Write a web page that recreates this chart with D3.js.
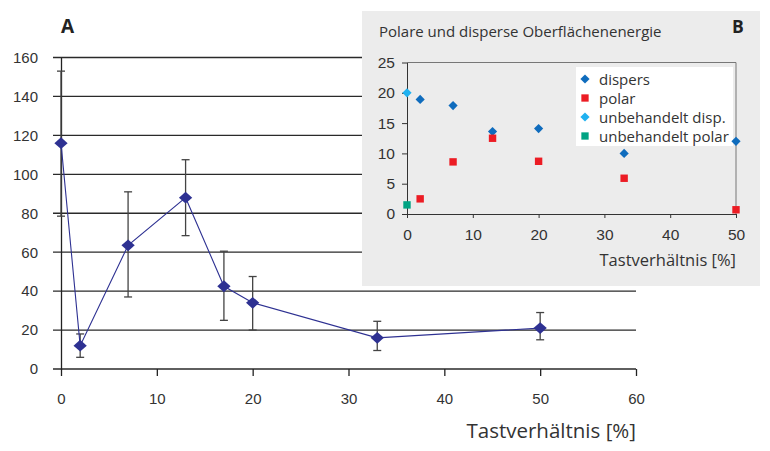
<!DOCTYPE html>
<html>
<head>
<meta charset="utf-8">
<script src="https://cdn.jsdelivr.net/npm/d3@7"></script>
<style>
  body { margin: 0; background: #fff; }
  svg { display: block; font-family: "Open Sans", "Noto Sans", sans-serif; }
</style>
</head>
<body>
<div class="main"></div>
<script>
// Chart A: surface energy vs duty cycle, with error bars
const dutyA = [0, 2, 7, 13, 17, 20, 33, 50];
const valueA = [116, 12, 63.5, 88, 42.5, 34, 16, 21];
const errHighA = [153, 18, 91, 107.5, 60.5, 47.5, 24.5, 29];
const errLowA = [78.5, 6, 37, 68.5, 25, 20, 9.5, 15];
const yTicksA = [0, 20, 40, 60, 80, 100, 120, 140, 160];
const xTicksA = [0, 10, 20, 30, 40, 50, 60];

// Chart B: polar / disperse
const dutyB = [2, 7, 13, 20, 33, 50];
const dispers = [18.9, 17.9, 13.6, 14.1, 10, 12];
const polar = [2.5, 8.6, 12.5, 8.7, 5.9, 0.7];
const untreatedDisp = [20];
const untreatedPolar = [1.5];
const yTicksB = [0, 5, 10, 15, 20, 25];
const xTicksB = [0, 10, 20, 30, 40, 50];
const legendLabels = ["dispers", "polar", "unbehandelt disp.", "unbehandelt polar"];
const legendColors = ["#0f6cbd", "#ec1c24", "#1fb1f0", "#00a383"];
const legendShapes = ["diamond", "square", "diamond", "square"];

const w = 770;
const h = 451;

const svg = d3.select(".main").append("svg").attr("width", w).attr("height", h);

// ---- chart A ----
const xA = d3.scaleLinear().domain([0, 60]).range([61, 636]);
const yA = d3.scaleLinear().domain([0, 160]).range([369, 57.5]);

// gridlines
svg.append("g")
    .selectAll("line")
    .data(yTicksA)
    .enter()
    .append("line")
    .attr("x1", xA(0) - 8)
    .attr("x2", xA(60))
    .attr("y1", (d) => yA(d))
    .attr("y2", (d) => yA(d))
    .attr("stroke", "#2a2a2a")
    .attr("stroke-width", 1.3);

const yAxisA = d3.axisLeft(yA).tickValues(yTicksA).tickSize(0).tickPadding(23);
svg.append("g")
    .attr("transform", `translate(${xA(0)},0)`)
    .call(yAxisA)
    .call((g) => g.select(".domain").attr("stroke", "#222").attr("stroke-width", 1.3))
    .call((g) => g.selectAll("text").attr("font-size", 15).attr("fill", "#333").attr("font-family", "inherit"));

const xAxisA = d3.axisBottom(xA).tickValues(xTicksA).tickSize(7).tickPadding(17).tickSizeOuter(0);
svg.append("g")
    .attr("transform", `translate(0,${yA(0)})`)
    .call(xAxisA)
    .call((g) => g.select(".domain").remove())
    .call((g) => g.selectAll("line").attr("stroke", "#222").attr("stroke-width", 1.3))
    .call((g) => g.selectAll("text").attr("font-size", 15).attr("fill", "#333").attr("font-family", "inherit"));

const pointsA = dutyA.map((d, i) => ({ x: d, y: valueA[i], hi: errHighA[i], lo: errLowA[i] }));

// error bars
const err = svg.append("g").attr("stroke", "#444").attr("stroke-width", 1.3);
err.selectAll("line.bar")
    .data(pointsA)
    .enter()
    .append("line")
    .attr("class", "bar")
    .attr("x1", (d) => xA(d.x))
    .attr("x2", (d) => xA(d.x))
    .attr("y1", (d) => yA(d.hi))
    .attr("y2", (d) => yA(d.lo));
err.selectAll("line.cap")
    .data(pointsA.flatMap((d) => [{ x: d.x, v: d.hi }, { x: d.x, v: d.lo }]))
    .enter()
    .append("line")
    .attr("class", "cap")
    .attr("x1", (d) => xA(d.x) - 4)
    .attr("x2", (d) => xA(d.x) + 4)
    .attr("y1", (d) => yA(d.v))
    .attr("y2", (d) => yA(d.v));

const lineA = d3.line().x((d) => xA(d.x)).y((d) => yA(d.y));
svg.append("path")
    .datum(pointsA)
    .attr("d", lineA)
    .attr("fill", "none")
    .attr("stroke", "#2e3192")
    .attr("stroke-width", 1.1);

const diamondA = d3.symbol().type(d3.symbolDiamond2).size(100);
svg.selectAll("path.markA")
    .data(pointsA)
    .enter()
    .append("path")
    .attr("class", "markA")
    .attr("d", diamondA)
    .attr("transform", (d) => `translate(${xA(d.x)},${yA(d.y)}) scale(1.06,0.94)`)
    .attr("fill", "#2e3192");

svg.append("text")
    .text("A")
    .attr("x", 61)
    .attr("y", 33)
    .attr("font-size", 19)
    .attr("font-weight", "bold")
    .attr("fill", "#222");

svg.append("text")
    .text("Tastverhältnis [%]")
    .attr("x", 636)
    .attr("y", 438)
    .attr("text-anchor", "end")
    .attr("font-size", 20.5)
    .attr("fill", "#333");

// ---- chart B (inset) ----
const inset = svg.append("g");
inset.append("rect")
    .attr("x", 362)
    .attr("y", 11)
    .attr("width", 398)
    .attr("height", 275)
    .attr("fill", "#ececec");

const xB = d3.scaleLinear().domain([0, 50]).range([407, 736]);
const yB = d3.scaleLinear().domain([0, 25]).range([214, 62.5]);

// frame top + right
inset.append("path")
    .attr("d", `M${xB(0)},${yB(25)}H${xB(50)}V${yB(0)}`)
    .attr("fill", "none")
    .attr("stroke", "#777")
    .attr("stroke-width", 1);

const yAxisB = d3.axisLeft(yB).tickValues(yTicksB).tickSize(5).tickPadding(7).tickSizeOuter(0);
inset.append("g")
    .attr("transform", `translate(${xB(0)},0)`)
    .call(yAxisB)
    .call((g) => g.select(".domain").attr("stroke", "#333"))
    .call((g) => g.selectAll("line").attr("stroke", "#333"))
    .call((g) => g.selectAll("text").attr("font-size", 15.5).attr("fill", "#333").attr("font-family", "inherit"));

const xAxisB = d3.axisBottom(xB).tickValues(xTicksB).tickSize(4).tickPadding(11).tickSizeOuter(0);
inset.append("g")
    .attr("transform", `translate(0,${yB(0)})`)
    .call(xAxisB)
    .call((g) => g.select(".domain").attr("stroke", "#333"))
    .call((g) => g.selectAll("line").attr("stroke", "#333"))
    .call((g) => g.selectAll("text").attr("font-size", 15.5).attr("fill", "#333").attr("font-family", "inherit"));

const shapeFor = (s, diamondSize, squareSize) =>
    s === "diamond"
        ? d3.symbol().type(d3.symbolDiamond2).size(diamondSize)()
        : d3.symbol().type(d3.symbolSquare2).size(squareSize)();

const seriesB = [
    { vals: dispers, xs: dutyB, k: 0 },
    { vals: polar, xs: dutyB, k: 1 },
    { vals: untreatedDisp, xs: [0], k: 2 },
    { vals: untreatedPolar, xs: [0], k: 3 },
];

// legend box
const lg = inset.append("g").attr("transform", "translate(576,67)");
lg.append("rect").attr("width", 157).attr("height", 79).attr("fill", "#fff");
legendLabels.forEach((lab, i) => {
    const row = lg.append("g").attr("transform", `translate(0,${12 + i * 19})`);
    row.append("path")
        .attr("d", shapeFor(legendShapes[i], 54, 68))
        .attr("transform", "translate(9,0)")
        .attr("fill", legendColors[i]);
    row.append("text")
        .text(lab)
        .attr("x", 23)
        .attr("y", 5.5)
        .attr("font-size", 15)
        .attr("fill", "#333");
});

seriesB.forEach((s) => {
    inset.append("g")
        .selectAll("path")
        .data(s.vals.map((v, i) => ({ x: s.xs[i], y: v })))
        .enter()
        .append("path")
        .attr("d", shapeFor(legendShapes[s.k], 54, 70))
        .attr("transform", (d) => `translate(${xB(d.x)},${yB(d.y)})`)
        .attr("fill", legendColors[s.k]);
});

inset.append("text")
    .text("Polare und disperse Oberflächenenergie")
    .attr("x", 379)
    .attr("y", 37)
    .attr("font-size", 15)
    .attr("fill", "#333");

inset.append("text")
    .text("B")
    .attr("x", 732)
    .attr("y", 33)
    .attr("font-size", 17.5)
    .attr("font-weight", "bold")
    .attr("fill", "#222");

inset.append("text")
    .text("Tastverhältnis [%]")
    .attr("x", 736)
    .attr("y", 266)
    .attr("text-anchor", "end")
    .attr("font-size", 16.5)
    .attr("fill", "#333");
</script>
</body>
</html>
